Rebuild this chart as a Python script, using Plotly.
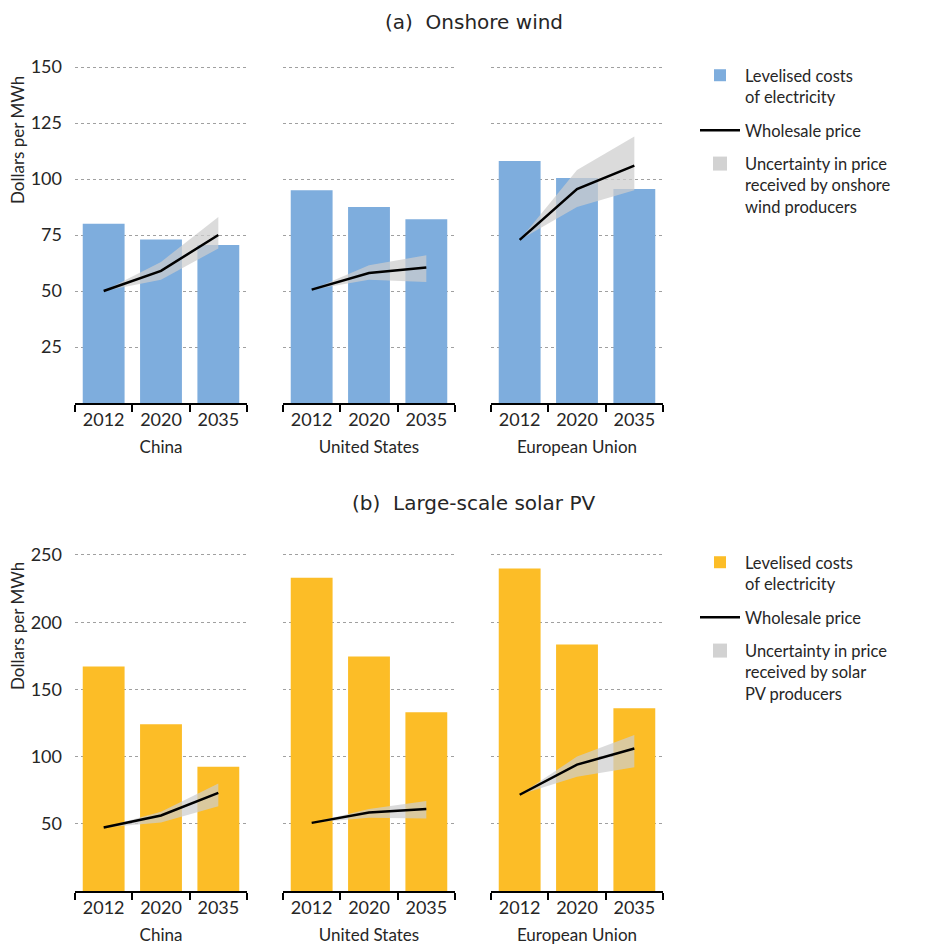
import plotly.graph_objects as go

# page is rendered with an 8px body margin; figure fills the rest of the 928x946 window
OFF = 8
W, H = 928 - OFF, 946 - OFF

years = ["2012", "2020", "2035"]
regions = ["China", "United States", "European Union"]

# Onshore wind (Dollars per MWh)
wind_lcoe = {"China": [80, 73, 70.5], "United States": [95, 87.5, 82], "European Union": [108, 100.5, 95.5]}
wind_price = {"China": [50, 59, 75], "United States": [50.6, 58, 60.5], "European Union": [72.8, 95.5, 106]}
wind_low = {"China": [50, 55, 69], "United States": [50.6, 55, 54], "European Union": [72.8, 87.5, 95]}
wind_high = {"China": [50, 63, 83], "United States": [50.6, 61.5, 66], "European Union": [72.8, 104, 119]}

# Large-scale solar PV (Dollars per MWh)
solar_lcoe = {"China": [167, 124, 92.5], "United States": [233, 174.5, 133], "European Union": [240, 183.5, 136]}
solar_price = {"China": [47.3, 56.2, 73], "United States": [50.7, 58.4, 61], "European Union": [71.6, 94, 106]}
solar_low = {"China": [47.3, 51, 63], "United States": [50.7, 54.5, 54], "European Union": [71.6, 85, 92]}
solar_high = {"China": [47.3, 59, 80], "United States": [50.7, 61, 67], "European Union": [71.6, 100, 116]}

wind_ticks = [25, 50, 75, 100, 125, 150]
solar_ticks = [50, 100, 150, 200, 250]

BLUE = "#7EADDD"
YELLOW = "#FCBD27"
BAND = "rgba(205,205,205,0.72)"
LEG_GREY = "#D2D2D2"
TXT = "#262626"
FONT = "Lato"


def fx(p):
    return (p - OFF) / W


def fy(p):
    return 1 - (p - OFF) / H


panel_x = [(75, 247), (283, 455), (491, 663)]
rows = [
    dict(lcoe=wind_lcoe, price=wind_price, low=wind_low, high=wind_high, color=BLUE,
         y0=403, ypx=336 / 150, ymax=152, ticks=wind_ticks, legend="legend",
         band_name="Uncertainty in price<br>received by onshore<br>wind producers"),
    dict(lcoe=solar_lcoe, price=solar_price, low=solar_low, high=solar_high, color=YELLOW,
         y0=891, ypx=336 / 250, ymax=253, ticks=solar_ticks, legend="legend2",
         band_name="Uncertainty in price<br>received by solar<br>PV producers"),
]

fig = go.Figure()
layout = {}
idx = 0
for r, row in enumerate(rows):
    ytop_px = row["y0"] - row["ymax"] * row["ypx"]
    for c, reg in enumerate(regions):
        idx += 1
        xa = "x" if idx == 1 else f"x{idx}"
        ya = "y" if idx == 1 else f"y{idx}"
        show = c == 0
        fig.add_trace(go.Bar(
            x=years, y=row["lcoe"][reg], xaxis=xa, yaxis=ya,
            marker=dict(color=row["color"], line=dict(width=0)),
            name="Levelised costs<br>of electricity", legend=row["legend"],
            legendgroup="lcoe", showlegend=show, legendrank=1, hoverinfo="skip"))
        fig.add_trace(go.Scatter(
            x=years + years[::-1], y=row["high"][reg] + row["low"][reg][::-1],
            xaxis=xa, yaxis=ya, fill="toself", fillcolor=BAND, mode="lines",
            line=dict(width=0, color=BAND), showlegend=False, hoverinfo="skip"))
        fig.add_trace(go.Scatter(
            x=years, y=row["price"][reg], xaxis=xa, yaxis=ya, mode="lines",
            line=dict(color="black", width=2.5), name="Wholesale price",
            legend=row["legend"], legendgroup="price", showlegend=show,
            legendrank=2, hoverinfo="skip"))
        if show:
            fig.add_trace(go.Scatter(
                x=[None], y=[None], xaxis=xa, yaxis=ya, mode="markers",
                marker=dict(symbol="square", size=14, color=LEG_GREY),
                name=row["band_name"], legend=row["legend"], legendgroup="band",
                showlegend=True, legendrank=3, hoverinfo="skip"))
        x0, x1 = panel_x[c]
        layout["xaxis" if idx == 1 else f"xaxis{idx}"] = dict(
            domain=[fx(x0), fx(x1)], anchor=ya, type="category",
            categoryorder="array", categoryarray=years, range=[-0.5, 2.5],
            showline=True, linecolor="black", linewidth=1.5, automargin=False,
            ticks="outside", tickson="boundaries", ticklen=7, tickwidth=1.5, tickcolor="black",
            showgrid=False, tickfont=dict(family=FONT, size=18, color=TXT),
            title=dict(text=reg, font=dict(family=FONT, size=17, color=TXT), standoff=12),
        )
        layout["yaxis" if idx == 1 else f"yaxis{idx}"] = dict(
            domain=[fy(row["y0"]), fy(ytop_px)], anchor=xa, automargin=False,
            range=[0, row["ymax"]], tickvals=row["ticks"], showticklabels=show,
            showline=False, zeroline=False, showgrid=True,
            gridcolor="#a0a0a0", griddash="dot", gridwidth=1.2,
            ticklabelstandoff=12,
            tickfont=dict(family=FONT, size=18, color=TXT),
        )

fig.update_layout(**layout)
leg_common = dict(xanchor="left", yanchor="top", font=dict(family=FONT, size=16.5, color=TXT),
                  tracegroupgap=9, bgcolor="rgba(0,0,0,0)", traceorder="grouped",
                  valign="top", itemwidth=40)
fig.update_layout(
    width=W, height=H, margin=dict(l=0, r=0, t=0, b=0, autoexpand=False),
    plot_bgcolor="white", paper_bgcolor="white", barmode="overlay", bargap=0.27,
    showlegend=True,
    legend=dict(x=fx(695), y=fy(58), **leg_common),
    legend2=dict(x=fx(695), y=fy(545), **leg_common),
    annotations=[
        dict(text="(a)&nbsp; Onshore wind", x=fx(474), y=1, xref="paper", yref="paper",
             xanchor="center", yanchor="top",
             showarrow=False, font=dict(family="DejaVu Sans", size=20, color=TXT)),
        dict(text="(b)&nbsp; Large-scale solar PV", x=fx(474), y=fy(503), xref="paper", yref="paper",
             xanchor="center", yanchor="middle",
             showarrow=False, font=dict(family="DejaVu Sans", size=20, color=TXT)),
        dict(text="Dollars per MWh", x=fx(17), y=fy(140), xref="paper", yref="paper",
             xanchor="center", yanchor="middle",
             textangle=-90, showarrow=False, font=dict(family=FONT, size=17, color=TXT)),
        dict(text="Dollars per MWh", x=fx(17), y=fy(626), xref="paper", yref="paper",
             xanchor="center", yanchor="middle",
             textangle=-90, showarrow=False, font=dict(family=FONT, size=17, color=TXT)),
    ],
)

fig.write_html("out.html")
